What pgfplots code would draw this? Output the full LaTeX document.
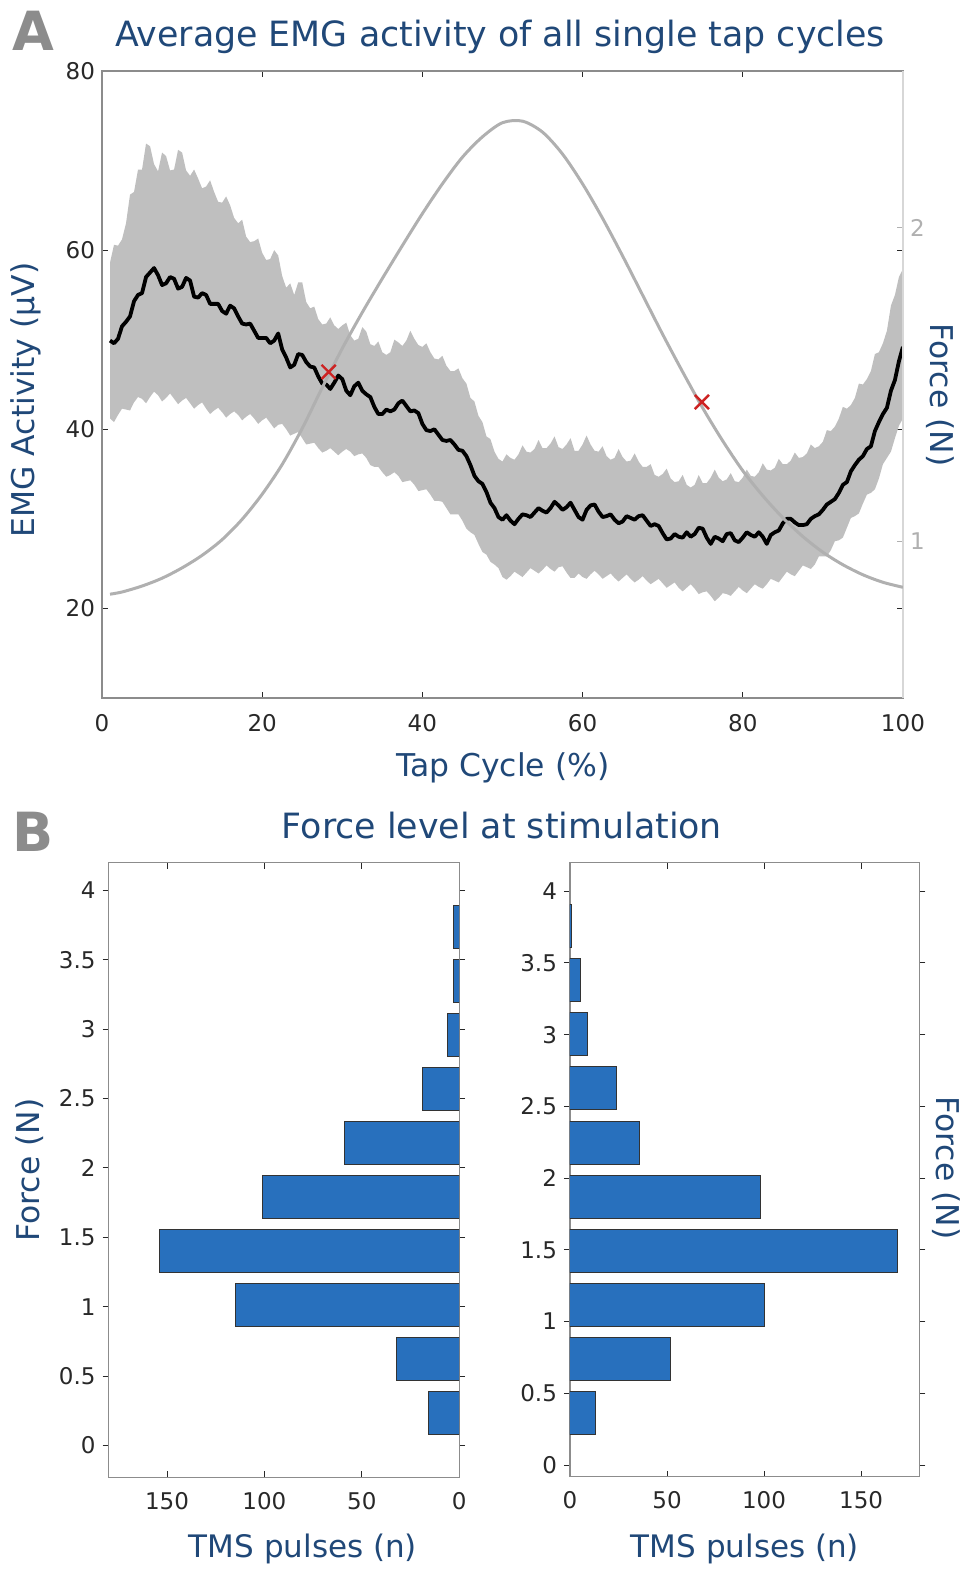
\documentclass[border=0pt]{standalone}
\usepackage{fontspec}
\setmainfont{DejaVu Sans}
\usepackage{pgfplots}
\pgfplotsset{compat=1.18}
\usepackage{pgfplotstable}
\usepgfplotslibrary{fillbetween}

\definecolor{titleblue}{RGB}{32,72,120}
\definecolor{barblue}{RGB}{40,112,189}
\definecolor{bandgray}{RGB}{191,191,191}
\definecolor{forcegray}{RGB}{176,176,176}
\definecolor{ticktext}{RGB}{40,40,40}
\definecolor{axgray}{RGB}{140,140,140}
\definecolor{lettergray}{RGB}{140,140,140}
\definecolor{xred}{RGB}{205,35,35}

\pgfplotstableread{
t up lo m
1 58.6 41.2 49.9
1.5 60.6 40.8 49.6
2 60.5 41.6 50.1
2.5 61.2 42.3 51.5
3 63.0 42.2 52.0
3.5 66.2 42.1 52.6
4 66.5 43.0 54.3
4.5 69.0 43.6 55.0
5 69.0 43.4 55.2
5.5 71.9 42.9 57.0
6 71.6 43.6 57.5
6.5 69.6 44.2 58.0
7 68.8 43.8 57.2
7.5 70.9 43.1 56.1
8 70.5 43.5 56.3
8.5 68.9 44.0 57.0
9 69.0 43.4 56.8
9.5 71.2 42.8 55.7
10 70.9 43.2 55.9
10.5 68.9 43.5 56.9
11 68.3 42.9 56.6
11.5 69.0 42.3 54.8
12 68.0 42.7 54.7
12.5 66.9 43.0 55.2
13 67.1 42.3 55.0
13.5 67.8 41.7 54.0
14 66.5 42.1 54.0
14.5 65.4 42.4 54.0
15 65.3 41.9 53.2
15.5 66.0 41.3 52.9
16 65.0 41.7 53.8
16.5 63.6 42.0 53.5
17 63.0 41.6 52.6
17.5 63.4 41.0 51.8
18 61.5 41.4 51.7
18.5 60.9 41.7 51.8
19 61.0 41.2 51.0
19.5 61.3 40.6 50.2
20 59.7 41.0 50.2
20.5 58.9 41.3 50.2
21 59.0 40.7 49.6
21.5 60.0 40.1 49.9
22 59.4 40.5 50.7
22.5 57.1 40.6 48.9
23 55.8 40.0 48.0
23.5 56.3 39.3 46.9
24 55.0 39.5 47.2
24.5 56.4 39.7 48.4
25 56.4 39.0 48.3
25.5 54.2 38.3 47.5
26 53.5 38.4 47.0
26.5 53.7 38.5 46.9
27 52.3 37.9 45.9
27.5 51.7 37.4 45.1
28 51.8 37.6 45.0
28.5 52.5 37.9 44.5
29 51.6 37.5 45.2
29.5 51.2 37.1 46.0
30 51.6 37.5 45.6
30.5 51.9 37.8 44.3
31 50.5 37.5 43.8
31.5 49.9 37.0 44.8
32 50.1 37.2 45.2
32.5 51.4 37.3 44.3
33 50.9 36.8 43.9
33.5 49.5 36.0 43.6
34 49.3 35.8 42.5
34.5 49.8 35.8 41.7
35 48.6 35.2 41.7
35.5 48.3 34.7 42.2
36 48.6 34.9 42.0
36.5 50.0 35.2 42.2
37 49.7 34.8 42.9
37.5 49.3 34.1 43.2
38 49.9 34.2 42.6
38.5 51.0 34.3 42.0
39 50.1 33.8 42.1
39.5 49.4 33.1 41.8
40 49.2 33.2 40.6
40.5 49.6 33.3 39.9
41 48.6 32.7 39.8
41.5 47.9 32.0 40.0
42 47.8 32.0 39.4
42.5 48.2 31.9 38.8
43 47.1 31.2 38.7
43.5 46.5 30.5 38.8
44 46.5 30.5 38.3
44.5 46.8 30.5 37.7
45 45.7 29.8 37.6
45.5 45.1 28.9 37.0
46 43.5 28.5 36.0
46.5 43.1 28.2 34.8
47 41.5 27.2 34.2
47.5 40.8 26.3 33.9
48 39.2 26.0 33.0
48.5 38.9 25.2 31.8
49 37.5 24.9 31.2
49.5 36.7 24.5 30.2
50 36.4 23.5 29.9
50.5 37.2 23.2 30.4
51 36.8 23.6 29.8
51.5 36.6 24.1 29.4
52 37.2 23.8 30.0
52.5 38.2 23.5 30.5
53 37.5 24.0 30.4
53.5 37.4 24.5 30.2
54 37.8 24.2 30.7
54.5 38.8 23.9 31.2
55 37.9 24.3 30.9
55.5 37.9 24.8 30.7
56 38.4 24.4 31.2
56.5 39.2 24.1 31.9
57 38.0 24.6 31.5
57.5 37.8 24.7 31.0
58 38.3 24.0 31.3
58.5 39.0 23.4 31.8
59 37.6 23.4 31.0
59.5 37.6 23.9 30.2
60 38.3 23.5 29.9
60.5 39.3 23.3 31.0
61 38.3 23.8 31.5
61.5 37.6 24.2 31.6
62 37.5 23.8 30.8
62.5 38.1 23.3 30.2
63 37.0 23.6 30.3
63.5 36.6 23.9 30.5
64 36.8 23.4 29.9
64.5 37.8 23.0 29.5
65 36.9 23.4 29.7
65.5 36.4 23.8 30.3
66 36.5 23.3 30.1
66.5 37.3 22.9 29.9
67 36.4 23.2 30.3
67.5 35.8 23.6 30.4
68 35.8 23.1 29.8
68.5 36.1 22.7 29.2
69 34.9 23.0 29.4
69.5 34.7 23.3 29.2
70 35.0 22.8 28.4
70.5 35.6 22.3 27.7
71 34.5 22.6 27.8
71.5 34.1 22.9 28.3
72 34.2 22.3 28.0
72.5 34.9 21.9 27.9
73 33.8 22.3 28.5
73.5 33.5 22.7 28.0
74 33.8 22.2 28.3
74.5 34.9 21.6 29.0
75 34.0 21.8 28.9
75.5 34.0 21.9 27.9
76 34.6 21.4 27.2
76.5 35.5 20.8 28.0
77 34.6 21.2 27.8
77.5 34.2 21.7 27.5
78 34.4 21.6 28.3
78.5 35.1 21.4 28.4
79 34.2 21.9 27.6
79.5 34.1 22.4 27.4
80 34.6 22.0 27.9
80.5 35.5 21.7 28.5
81 34.8 22.2 28.2
81.5 34.7 22.7 28.0
82 35.2 22.4 28.5
82.5 36.2 22.2 28.0
83 35.5 22.7 27.2
83.5 35.4 23.3 28.2
84 35.7 23.1 28.5
84.5 36.7 22.9 28.7
85 36.1 23.5 29.5
85.5 36.1 24.1 30.0
86 36.5 23.8 30.0
86.5 37.4 23.6 29.6
87 36.8 24.2 29.3
87.5 36.9 24.8 29.3
88 37.3 24.6 29.4
88.5 38.3 24.4 30.0
89 37.9 24.9 30.3
89.5 38.1 25.8 30.5
90 38.6 25.8 31.0
90.5 39.9 25.8 31.6
91 39.8 26.5 31.9
91.5 40.3 27.5 32.2
92 41.2 27.6 32.9
92.5 42.5 27.9 33.8
93 42.3 29.0 34.1
93.5 42.7 30.1 35.3
94 43.5 30.3 36.0
94.5 45.1 30.6 36.6
95 45.0 31.7 37.0
95.5 45.6 32.7 37.8
96 46.5 32.9 38.1
96.5 48.4 33.3 39.8
97 48.6 34.5 40.8
97.5 49.6 36.1 41.7
98 51.0 36.8 42.4
98.5 53.8 37.5 44.3
99 55.0 39.0 45.5
99.5 57.0 40.4 47.6
100 57.9 41.2 49.2
}\emg

\pgfplotstableread{
t F
1 0.831
2.5 0.838
5 0.857
7.5 0.882
10 0.915
12.5 0.955
15 1.005
17.5 1.070
20 1.150
22.5 1.245
25 1.360
27.5 1.490
30 1.615
32.5 1.730
35 1.838
37.5 1.943
40 2.045
42.5 2.140
45 2.225
47.5 2.290
50 2.335
52.5 2.340
55 2.305
57.5 2.235
60 2.140
62.5 2.030
65 1.910
67.5 1.785
70 1.660
72.5 1.540
75 1.425
77.5 1.320
80 1.225
82.5 1.145
85 1.075
87.5 1.015
90 0.965
92.5 0.925
95 0.893
97.5 0.869
100 0.853
}\force

\pgfplotsset{
  every axis/.append style={
    scale only axis, anchor=south west,
    tick align=inside, major tick length=3pt,
    /pgf/number format/assume math mode=true,
    ticklabel style={font=\fontsize{11.5}{13}\selectfont, text=ticktext},
    axis line style={axgray, line width=0.6pt},
    every tick/.style={ticktext, line width=0.5pt},
  }
}

\begin{document}
\begin{tikzpicture}

% ---------------- Panel A ----------------
\begin{axis}[at={(51pt,-349pt)}, width=400.5pt, height=313.5pt,
  xmin=0, xmax=100, ymin=10, ymax=80,
  xtick={0,20,40,60,80,100}, ytick={20,40,60,80},
  xticklabel style={yshift=-4.5pt}]
  \addplot[draw=none, name path=up, forget plot] table[x=t,y=up]{\emg};
  \addplot[draw=none, name path=lo, forget plot] table[x=t,y=lo]{\emg};
  \addplot[bandgray, draw=none] fill between[of=up and lo];
  \addplot[black, line width=1.9pt, line join=round] table[x=t,y=m]{\emg};
\end{axis}
\begin{axis}[at={(51pt,-349pt)}, width=400.5pt, height=313.5pt,
  xmin=0, xmax=100, ymin=0.5, ymax=2.5,
  axis x line=none, axis y line*=right,
  ytick={1,2},
  y axis line style={forcegray!50, line width=0.8pt},
  ytick style={forcegray},
  yticklabel style={text=forcegray}]
  \addplot[forcegray, line width=1.5pt, smooth, tension=0.5] table[x=t,y=F]{\force};
  \addplot[only marks, mark=x, mark size=5pt, xred, mark options={line width=1.2pt}]
    coordinates {(28.3,1.54) (74.9,1.444)};
\end{axis}

% ---------------- Panel B left ----------------
\begin{axis}[at={(54.3pt,-738.7pt)}, width=175.3pt, height=307.3pt,
  xmin=0, xmax=180, x dir=reverse, ymin=-0.23, ymax=4.2,
  xtick={0,50,100,150}, ytick={0,0.5,1,1.5,2,2.5,3,3.5,4},
  xticklabel style={yshift=-4pt},
  xbar, bar width=0.311]
  \addplot[fill=barblue, draw=black!80, line width=0.5pt, bar shift=0pt]
    coordinates {(16,0.233) (32,0.622) (115,1.011) (154,1.400) (101,1.789)
                 (59,2.178) (19,2.567) (6,2.956) (3,3.345) (3,3.734)};
\end{axis}

% ---------------- Panel B right ----------------
\begin{axis}[at={(285pt,-738.3pt)}, width=174.7pt, height=307pt,
  xmin=0, xmax=180, ymin=-0.08, ymax=4.2,
  xtick={0,50,100,150}, ytick={0,0.5,1,1.5,2,2.5,3,3.5,4},
  xticklabel style={yshift=-4pt},
  xbar, bar width=0.30]
  \addplot[fill=barblue, draw=black!80, line width=0.5pt, bar shift=0pt]
    coordinates {(13,0.363) (52,0.740) (100,1.117) (169,1.494) (98,1.871)
                 (36,2.248) (24,2.625) (9,3.002) (5.5,3.379) (1,3.756)};
\end{axis}

% ---------------- Text ----------------
\node[font=\fontsize{27}{30}\selectfont\bfseries, text=lettergray] at (16.5pt,-15.5pt) {A};
\node[font=\fontsize{27}{30}\selectfont\bfseries, text=lettergray] at (16.5pt,-416pt) {B};
\node[font=\fontsize{17.4}{20}\selectfont, text=titleblue, anchor=base] at (250pt,-23.5pt)
  {Average EMG activity of all single tap cycles};
\node[font=\fontsize{17.4}{20}\selectfont, text=titleblue, anchor=base] at (251pt,-419.5pt)
  {Force level at stimulation};
\node[font=\fontsize{15.7}{18}\selectfont, text=titleblue, anchor=base] at (251.5pt,-388.5pt)
  {Tap Cycle (\%)};
\node[font=\fontsize{15.7}{18}\selectfont, text=titleblue, rotate=90] at (13pt,-200pt)
  {EMG Activity (μV)};
\node[font=\fontsize{15.7}{18}\selectfont, text=titleblue, rotate=-90] at (470pt,-197.5pt)
  {Force (N)};
\node[font=\fontsize{15.7}{18}\selectfont, text=titleblue, rotate=90] at (15pt,-585pt)
  {Force (N)};
\node[font=\fontsize{15.7}{18}\selectfont, text=titleblue, rotate=-90] at (473pt,-584pt)
  {Force (N)};
\node[font=\fontsize{15.5}{18}\selectfont, text=titleblue, anchor=base] at (151.5pt,-779pt)
  {TMS pulses (n)};
\node[font=\fontsize{15.5}{18}\selectfont, text=titleblue, anchor=base] at (372.5pt,-779pt)
  {TMS pulses (n)};
\path (0,0) rectangle (484pt,-785.5pt);
\end{tikzpicture}
\end{document}
